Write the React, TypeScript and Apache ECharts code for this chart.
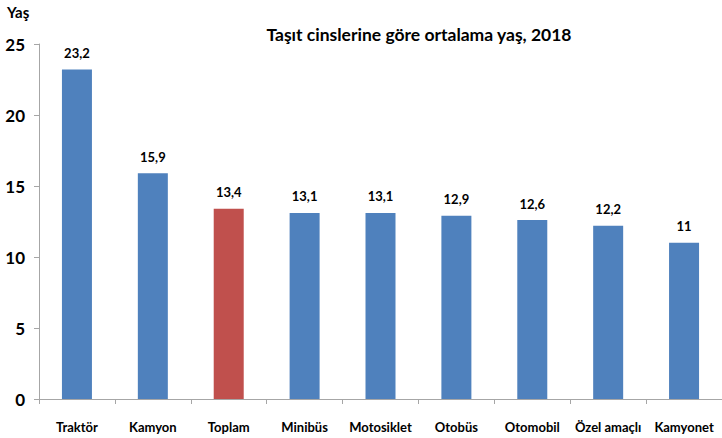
import React, { useEffect, useRef } from "react";
import * as echarts from "echarts";

const categories = ["Traktör", "Kamyon", "Toplam", "Minibüs", "Motosiklet", "Otobüs", "Otomobil", "Özel amaçlı", "Kamyonet"];
const values = [23.2, 15.9, 13.4, 13.1, 13.1, 12.9, 12.6, 12.2, 11];
const highlightIndex = 2;
const title = "Taşıt cinslerine göre ortalama yaş, 2018";
const yName = "Yaş";

const FONT = "Lato, 'Open Sans', sans-serif";

export default function App() {
  const ref = useRef<HTMLDivElement>(null);
  useEffect(() => {
    if (!ref.current) return;
    const chart = echarts.init(ref.current, undefined, { renderer: "svg" });
    chart.setOption({
      animation: false,
      backgroundColor: "#ffffff",
      textStyle: { fontFamily: FONT },
      title: {
        text: title,
        left: 414,
        top: 20,
        textAlign: "center",
        textStyle: { fontSize: 17.5, fontWeight: "bold", color: "#000", fontFamily: FONT },
      },
      graphic: [
        {
          type: "text",
          left: 7,
          top: 4,
          style: { text: yName, fontSize: 15, fontWeight: "bold", fill: "#000", fontFamily: FONT },
        },
      ],
      grid: { left: 39, top: 44, bottom: 39, width: 690 },
      xAxis: {
        type: "category",
        data: categories,
        axisLine: { lineStyle: { color: "#a6a6a6", width: 1 } },
        axisTick: { show: true, alignWithLabel: false, length: 5, lineStyle: { color: "#a6a6a6" } },
        axisLabel: { color: "#000", fontWeight: "bold", fontSize: 13, margin: 21, interval: 0, fontFamily: FONT },
      },
      yAxis: {
        type: "value",
        min: 0,
        max: 25,
        interval: 5,
        axisLine: { show: true, lineStyle: { color: "#a6a6a6", width: 1 } },
        axisTick: { show: true, length: 5, lineStyle: { color: "#a6a6a6" } },
        splitLine: { show: false },
        axisLabel: { color: "#000", fontWeight: "bold", fontSize: 17, margin: 14, fontFamily: FONT },
      },
      series: [
        {
          type: "bar",
          barWidth: 30,
          data: values.map((v, i) => ({
            value: v,
            itemStyle: { color: i === highlightIndex ? "#C0504D" : "#4F81BD" },
          })),
          label: {
            show: true,
            position: "top",
            distance: 10,
            color: "#000",
            fontWeight: "bold",
            fontSize: 13,
            fontFamily: FONT,
            formatter: (p: any) => String(p.value).replace(".", ","),
          },
        },
      ],
    });
    return () => chart.dispose();
  }, []);
  return <div ref={ref} style={{ width: 722, height: 438, position: "absolute", left: 0, top: 0 }} />;
}
